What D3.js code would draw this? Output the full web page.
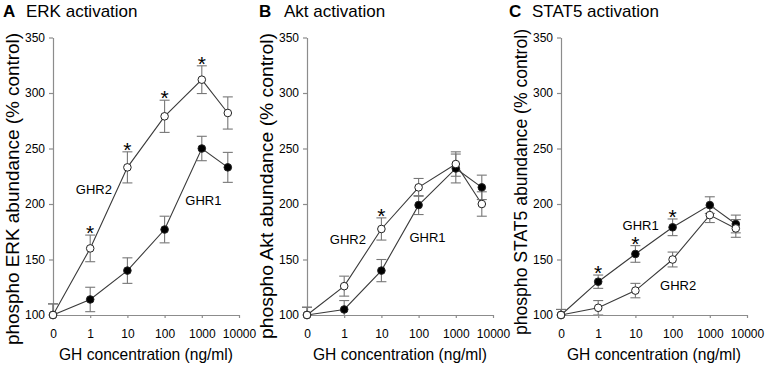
<!DOCTYPE html>
<html><head><meta charset="utf-8">
<script src="https://cdn.jsdelivr.net/npm/d3@7"></script>
<style>
html,body{margin:0;padding:0;background:#fff;}
text{font-family:"Liberation Sans",Arial,sans-serif;}
</style></head>
<body><svg id="chart" width="773" height="365"></svg>
<script>
// ---- data ----
const concentrations = [0, 1, 10, 100, 1000, 5000];
const xTickValues = [0, 1, 10, 100, 1000, 10000];
const xTickLabels = ["0", "1", "10", "100", "1000", "10000"];
const yTickValues = [100, 150, 200, 250, 300, 350];

const erkGHR1 = [100, 114, 140, 177, 250, 233];
const erkGHR1Err = [10, 11, 11.5, 12, 11, 13.5];
const erkGHR2 = [100, 160, 233, 279, 312, 282];
const erkGHR2Err = [10, 12, 14, 14.5, 12.5, 14.5];
const erkStarsGHR2 = [1, 10, 100, 1000];

const aktGHR1 = [100, 105, 140, 199, 232, 215];
const aktGHR1Err = [7, 8, 10, 8.5, 13, 11];
const aktGHR2 = [100, 126, 177.5, 215, 236, 200];
const aktGHR2Err = [7, 9, 10, 8, 11, 11];
const aktStarsGHR2 = [10];

const stat5GHR1 = [100, 130, 155, 179, 199, 182];
const stat5GHR1Err = [5, 6, 7.5, 7.5, 7.5, 8];
const stat5GHR2 = [100, 106.5, 122, 150, 190, 178];
const stat5GHR2Err = [5, 6.5, 6.5, 6.7, 6.7, 8];
const stat5StarsGHR1 = [1, 10, 100];

const panelLetters = ["A", "B", "C"];
const panelTitles = ["ERK activation", "Akt activation", "STAT5 activation"];
const yLabels = ["phospho ERK abundance (% control)", "phospho Akt abundance (% control)", "phospho STAT5 abundance (% control)"];
const xLabel = "GH concentration (ng/ml)";
// series label anchors: [concentration, value]
const seriesLabelPos = [
  {GHR2: [1.26, 213], GHR1: [1100, 203.4]},
  {GHR2: [1.26, 168.3], GHR1: [174, 169.5]},
  {GHR1: [13.8, 180.3], GHR2: [141, 127]}
];

// ---- layout ----
const layout = [
  {x0: 53, letterX: 3, titleX: 26, ylabCy: 189, ylabLen: 312},
  {x0: 307, letterX: 259, titleX: 284, ylabCy: 186, ylabLen: 306},
  {x0: 561, letterX: 509, titleX: 532, ylabCy: 182, ylabLen: 306}
];
const plotW = 186, yTop = 37.5, yBot = 315;

const panels = [
  {s1: erkGHR1, e1: erkGHR1Err, s2: erkGHR2, e2: erkGHR2Err, stars: erkStarsGHR2, starSeries: 2},
  {s1: aktGHR1, e1: aktGHR1Err, s2: aktGHR2, e2: aktGHR2Err, stars: aktStarsGHR2, starSeries: 2},
  {s1: stat5GHR1, e1: stat5GHR1Err, s2: stat5GHR2, e2: stat5GHR2Err, stars: stat5StarsGHR1, starSeries: 1}
];

const svg = d3.select("#chart");
const decade = v => v === 0 ? 0 : Math.log10(v) + 1;
const axisCol = "#8c8c8c", lineCol = "#3a3a3a", errCol = "#777";

panels.forEach((p, pi) => {
  const L = layout[pi];
  const x = d3.scaleLinear().domain([0, 5]).range([L.x0, L.x0 + plotW]);
  const y = d3.scaleLinear().domain([100, 350]).range([yBot, yTop]);
  const g = svg.append("g");

  // title
  g.append("text").attr("x", L.letterX).attr("y", 17).attr("font-size", 17)
    .attr("font-weight", "bold").text(panelLetters[pi]);
  g.append("text").attr("x", L.titleX).attr("y", 17).attr("font-size", 17).text(panelTitles[pi]);

  // axes
  const ya = g.append("g").attr("transform", `translate(${L.x0},0)`)
    .call(d3.axisLeft(y).tickValues(yTickValues).tickSize(4).tickSizeOuter(0).tickPadding(4));
  const xa = g.append("g").attr("transform", `translate(0,${yBot})`)
    .call(d3.axisBottom(x).tickValues(xTickValues.map(decade)).tickSize(3).tickSizeOuter(0).tickPadding(11)
      .tickFormat((d, i) => xTickLabels[i]));
  [ya, xa].forEach(a => {
    a.select(".domain").attr("stroke", axisCol).attr("stroke-width", 1.2);
    a.selectAll(".tick line").attr("stroke", axisCol).attr("stroke-width", 1.2);
    a.selectAll(".tick text").attr("font-size", 12).attr("fill", "#000")
      .attr("font-family", "Liberation Sans, Arial, sans-serif");
  });

  // axis labels
  g.append("text").attr("transform", `translate(${L.x0 - 34},${L.ylabCy}) rotate(-90)`)
    .attr("text-anchor", "middle").attr("font-size", 17.5)
    .attr("textLength", L.ylabLen).attr("lengthAdjust", "spacingAndGlyphs").text(yLabels[pi]);
  g.append("text").attr("x", L.x0 + plotW / 2).attr("y", 360).attr("text-anchor", "middle")
    .attr("font-size", 16.5).attr("textLength", 174).attr("lengthAdjust", "spacingAndGlyphs").text(xLabel);

  const clipId = "clip" + pi;
  svg.append("clipPath").attr("id", clipId).append("rect")
    .attr("x", L.x0 - 10).attr("y", 0).attr("width", plotW + 20).attr("height", yBot);

  const series = [
    {vals: p.s1, errs: p.e1, fill: "#000", id: 1},
    {vals: p.s2, errs: p.e2, fill: "#fff", id: 2}
  ];
  const line = d3.line().x((d, i) => x(decade(concentrations[i]))).y(d => y(d));

  series.forEach(s => {
    g.append("path").datum(s.vals).attr("d", line).attr("fill", "none")
      .attr("stroke", lineCol).attr("stroke-width", 1.1);
  });
  series.forEach(s => {
    const eg = g.append("g").attr("clip-path", `url(#${clipId})`);
    s.vals.forEach((v, i) => {
      const cx = x(decade(concentrations[i]));
      const t = y(v + s.errs[i]), b = y(v - s.errs[i]);
      eg.append("line").attr("x1", cx).attr("x2", cx).attr("y1", t).attr("y2", b)
        .attr("stroke", errCol).attr("stroke-width", 1.1);
      [t, b].forEach(yy => eg.append("line").attr("x1", cx - 5).attr("x2", cx + 5)
        .attr("y1", yy).attr("y2", yy).attr("stroke", errCol).attr("stroke-width", 1.1));
    });
  });
  series.forEach(s => {
    g.selectAll(null).data(s.vals).enter().append("circle")
      .attr("cx", (d, i) => x(decade(concentrations[i]))).attr("cy", d => y(d))
      .attr("r", 3.8).attr("fill", s.fill).attr("stroke", "#222").attr("stroke-width", 1);
  });

  // significance stars
  const ss = p.starSeries === 1 ? series[0] : series[1];
  p.stars.forEach(c => {
    const i = concentrations.indexOf(c);
    g.append("text").attr("x", x(decade(c))).attr("y", y(ss.vals[i] + ss.errs[i]) + 5)
      .attr("text-anchor", "middle").attr("font-size", 21).text("*");
  });

  // series labels
  Object.entries(seriesLabelPos[pi]).forEach(([name, pos]) => {
    g.append("text").attr("x", x(decade(pos[0]))).attr("y", y(pos[1]))
      .attr("dominant-baseline", "central").attr("text-anchor", "middle")
      .attr("font-size", 13).text(name);
  });
});
</script></body></html>
